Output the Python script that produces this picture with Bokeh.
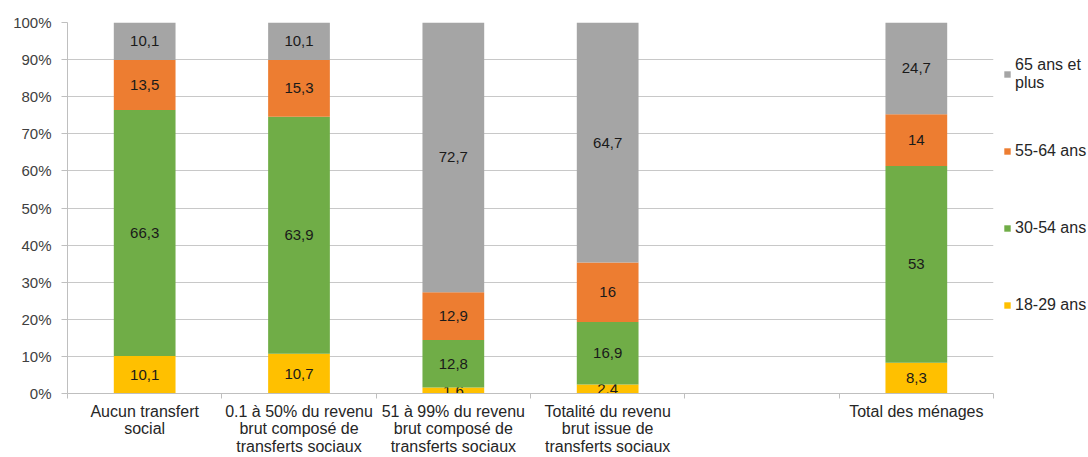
from bokeh.plotting import figure
from bokeh.models import FixedTicker, Legend, LegendItem, ColumnDataSource, Range1d
from bokeh.core.properties import value
from bokeh.embed import file_html
from bokeh.resources import INLINE

categories = ["Aucun transfert\nsocial",
              "0.1 à 50% du revenu\nbrut composé de\ntransferts sociaux",
              "51 à 99% du revenu\nbrut composé de\ntransferts sociaux",
              "Totalité du revenu\nbrut issue de\ntransferts sociaux",
              "",
              "Total des ménages"]
series_names = ["18-29 ans", "30-54 ans", "55-64 ans", "65 ans et\nplus"]
v_18_29 = [10.1, 10.7, 1.6, 2.4, None, 8.3]
v_30_54 = [66.3, 63.9, 12.8, 16.9, None, 53]
v_55_64 = [13.5, 15.3, 12.9, 16, None, 14]
v_65 = [10.1, 10.1, 72.7, 64.7, None, 24.7]
y_ticks = [0, 10, 20, 30, 40, 50, 60, 70, 80, 90, 100]

colors = ["#FFC000", "#70AD47", "#ED7D31", "#A5A5A5"]
series = [v_18_29, v_30_54, v_55_64, v_65]

FONT = "Liberation Sans"
FS = "15px"

p = figure(frame_width=926, frame_height=371, output_backend="svg", toolbar_location=None,
           x_range=Range1d(0, len(categories)), y_range=Range1d(0, 100),
           min_border_left=67, min_border_top=22, min_border_bottom=64, min_border_right=95)
p.outline_line_color = None
p.background_fill_color = "white"

idx = [i for i, c in enumerate(series[0]) if c is not None]
xs = [i + 0.5 for i in idx]
renderers = []
bottoms = [0.0] * len(idx)
for s, col in zip(series, colors):
    vals = [s[i] for i in idx]
    tops = [b + v for b, v in zip(bottoms, vals)]
    src = ColumnDataSource(dict(x=xs, bottom=bottoms, top=tops,
                                mid=[(b + t) / 2 for b, t in zip(bottoms, tops)],
                                lab=[("%g" % v).replace(".", ",") for v in vals]))
    r = p.vbar(x="x", bottom="bottom", top="top", width=0.4, source=src,
               fill_color=col, line_color=None)
    p.text(x="x", y="mid", text="lab", source=src, text_align="center", text_baseline="middle",
           text_font=value(FONT), text_font_size=FS, text_color="#1a1a1a")
    renderers.append(r)
    bottoms = tops

# x axis: labels at centers, tick marks at boundaries
xt = FixedTicker(ticks=[i + 0.5 for i in range(len(categories))],
                 minor_ticks=list(range(len(categories) + 1)))
p.xaxis.ticker = xt
p.xaxis.major_label_overrides = {i + 0.5: c for i, c in enumerate(categories)}
p.xaxis.major_tick_line_color = None
p.xaxis.minor_tick_line_color = "#BFBFBF"
p.xaxis.minor_tick_in = 0
p.xaxis.minor_tick_out = 5
p.xaxis.axis_line_color = "#BFBFBF"
p.xaxis.major_label_text_font = FONT
p.xaxis.major_label_text_font_size = "16px"
p.xaxis.major_label_text_color = "#262626"
p.xaxis.major_label_text_line_height = 1.03
p.xaxis.major_label_standoff = 3

p.yaxis.ticker = FixedTicker(ticks=y_ticks)
p.yaxis.major_label_overrides = {t: "%d%%" % t for t in y_ticks}
p.yaxis.minor_tick_line_color = None
p.yaxis.major_tick_line_color = "#BFBFBF"
p.yaxis.major_tick_in = 0
p.yaxis.major_tick_out = 6
p.yaxis.axis_line_color = "#BFBFBF"
p.yaxis.major_label_text_font = FONT
p.yaxis.major_label_text_font_size = FS
p.yaxis.major_label_text_color = "#404040"
p.yaxis.major_label_standoff = 10

p.xgrid.grid_line_color = None
p.ygrid.ticker = FixedTicker(ticks=y_ticks)
p.ygrid.grid_line_color = "#C8C8C8"
p.ygrid.grid_line_width = 1

items = [LegendItem(label=n, renderers=[r]) for n, r in zip(series_names, renderers)][::-1]
leg = Legend(items=items, location=(10, 68), orientation="vertical",
             label_text_font=FONT, label_text_font_size="16px", label_text_color="#262626",
             label_text_line_height=1.25,
             glyph_width=8, glyph_height=8, label_standoff=4, spacing=37, label_height=40,
             padding=0, margin=0, border_line_color=None, background_fill_alpha=0)
p.add_layout(leg, "right")

open("out.html", "w").write(file_html(p, INLINE))
